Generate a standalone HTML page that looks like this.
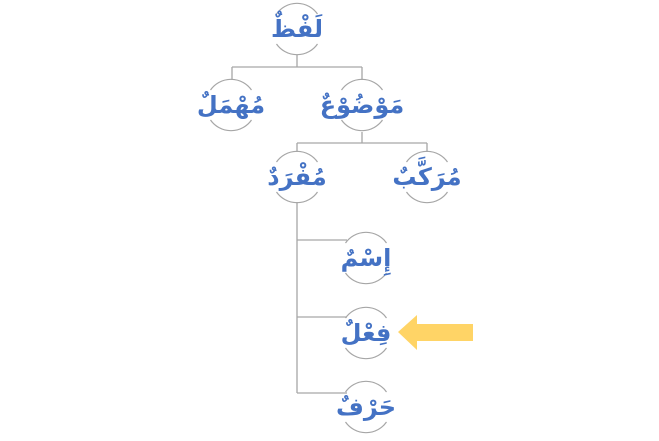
<!DOCTYPE html>
<html><head><meta charset="utf-8"><style>
html,body{margin:0;padding:0;background:#fff;}
svg{display:block}
text{font-family:"Liberation Sans","DejaVu Sans",sans-serif;font-weight:bold;font-size:24px;fill:#4472C4;text-anchor:middle;}
</style></head><body>
<svg width="659" height="441" viewBox="0 0 659 441" xmlns="http://www.w3.org/2000/svg">
<defs>
<g id="c" fill="none" stroke="#A6A6A6" stroke-width="1.2">
<path d="M-20.5 -15 A25 25 0 0 1 20.5 -15"/>
<path d="M-20.5 15 A25 25 0 0 0 20.5 15"/>
</g>
</defs>
<g stroke="#A6A6A6" stroke-width="1.3" fill="none">
<path d="M297 55 V67 M232 67 H362 M232 67 V80 M362 67 V80"/>
<path d="M362 132 V143 M297 143 H427 M297 143 V152 M427 143 V152"/>
<path d="M297 202 V393 M297 240 H347 M297 317 H347 M297 393 H347"/>
</g>
<use href="#c" x="297" y="29"/>
<use href="#c" x="231" y="105"/>
<use href="#c" x="362" y="105"/>
<use href="#c" x="297" y="177"/>
<use href="#c" x="427" y="177"/>
<use href="#c" x="366" y="258"/>
<use href="#c" x="366" y="333"/>
<use href="#c" x="366" y="407"/>
<text x="297" y="37" direction="rtl">لَفْظٌ</text>
<text x="231" y="113" direction="rtl">مُهْمَلٌ</text>
<text x="362" y="113" direction="rtl">مَوْضُوْعٌ</text>
<text x="297" y="185" direction="rtl">مُفْرَدٌ</text>
<text x="427" y="185" direction="rtl">مُرَكَّبٌ</text>
<text x="366" y="266" direction="rtl">إِسْمٌ</text>
<text x="366" y="341" direction="rtl">فِعْلٌ</text>
<text x="366" y="415" direction="rtl">حَرْفٌ</text>
<polygon points="398,332 417,315 417,324 473,324 473,341 417,341 417,350" fill="#FFD466"/>
</svg>
</body></html>
